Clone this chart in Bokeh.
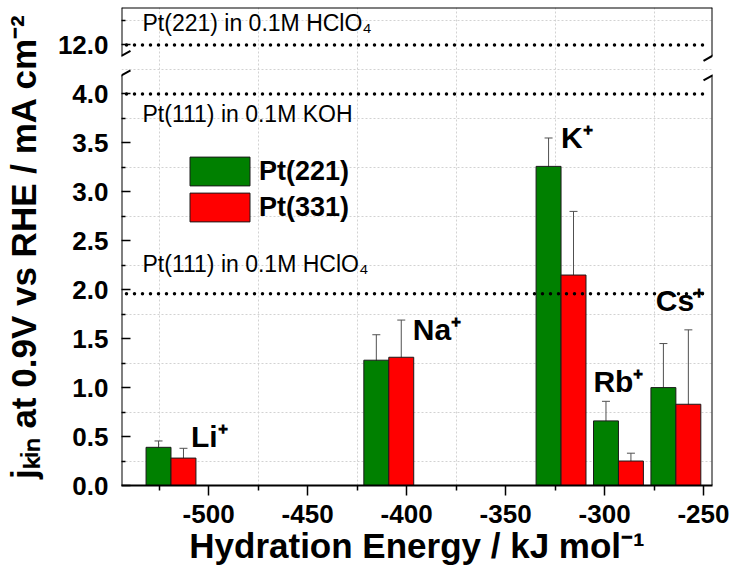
import numpy as np
from bokeh.plotting import figure
from bokeh.models import (ColumnDataSource, FixedTicker, CustomJSTickFormatter,
                          Whisker, TeeHead, Arrow, Legend, LegendItem)
from bokeh.core.properties import value
from bokeh.embed import file_html
from bokeh.resources import INLINE

# ---------------- data ----------------
ions = ["Li\u207a", "Na\u207a", "K\u207a", "Rb\u207a", "Cs\u207a"]
hydration_energy = [-519, -409, -322, -293, -264]          # kJ/mol
jkin_pt221 = [0.39, 1.28, 3.26, 0.66, 1.00]                  # mA/cm2
err_pt221 = [0.065, 0.26, 0.29, 0.20, 0.45]
jkin_pt331 = [0.28, 1.31, 2.15, 0.25, 0.83]
err_pt331 = [0.10, 0.38, 0.65, 0.08, 0.76]
series_names = ["Pt(221)", "Pt(331)"]
ref_labels = ["Pt(221) in 0.1M HClO\u2084", "Pt(111) in 0.1M KOH", "Pt(111) in 0.1M HClO\u2084"]
ref_values = [12.0, 4.0, 1.96]
x_ticks = [-500, -450, -400, -350, -300, -250]
x_minor_ticks = [-525, -475, -425, -375, -325, -275]
y_ticks_lower = [0.0, 0.5, 1.0, 1.5, 2.0, 2.5, 3.0, 3.5, 4.0]
y_minor_lower = [0.25, 0.75, 1.25, 1.75, 2.25, 2.75, 3.25, 3.75]
y_ticks_upper = [12.0]
y_minor_upper = [12.25]
y_grid_lower = [0.25, 0.75, 1.25, 1.75, 2.25, 2.75, 3.25, 3.75, 4.25]
x_title = "Hydration Energy / kJ mol\u207b\u00b9"
y_title = "j\u2096\u1d62\u2099 at 0.9V vs RHE / mA cm\u207b\u00b2"

# ---------------- axis break (upper segment shifted down) ----------------
BREAK_LIMIT = 6.0       # values above this belong to the upper segment
UPPER_BASE = 12.0       # value of the upper segment ...
UPPER_POS = 4.5         # ... drawn at this plot position
X_START, X_END = -544.0, -245.5
Y_END = 4.883
GAP_LO, GAP_HI = 4.19, 4.39


def ty(v):
    return v if v < BREAK_LIMIT else v - UPPER_BASE + UPPER_POS


# ---------------- geometry (page pixels) ----------------
W, H = 729, 577
BL, BR, BT, BB = 120, 17, 7, 92
SX = (W - BL - BR) / (X_END - X_START)
SY = (H - BT - BB) / Y_END
BASE_SHIFT = 0.34        # em: lift so that text sits on its alphabetic baseline

FONT = "Liberation Sans"
BAR_W = 12.6
GREEN = "#008000"
RED = "#ff0000"

p = figure(width=W, height=H, x_range=(X_START, X_END), y_range=(0, Y_END),
           output_backend="svg", toolbar_location=None,
           min_border_left=BL, min_border_right=BR, min_border_top=BT, min_border_bottom=BB)
p.outline_line_color = None
p.background_fill_color = "white"
p.border_fill_color = "white"

# grids (dotted, at intermediate positions)
p.xgrid.ticker = FixedTicker(ticks=x_minor_ticks)
p.ygrid.ticker = FixedTicker(ticks=y_grid_lower + [ty(v) for v in y_minor_upper])
for g in (p.xgrid, p.ygrid):
    g.grid_line_color = "#d2d2d2"
    g.grid_line_dash = "2 2"
    g.grid_line_width = 1

# x axis
xa = p.xaxis[0]
xa.ticker = FixedTicker(ticks=x_ticks, minor_ticks=x_minor_ticks)
xa.formatter = CustomJSTickFormatter(code="return tick.toFixed(0);")
xa.axis_line_width = 2
xa.axis_line_color = "black"
xa.major_tick_in, xa.major_tick_out = 0, 10
xa.minor_tick_in, xa.minor_tick_out = 0, 5
xa.major_tick_line_width = 1.5
xa.minor_tick_line_width = 1.5
xa.major_tick_line_color = "black"
xa.minor_tick_line_color = "black"
xa.major_label_text_font = FONT
xa.major_label_text_font_style = "bold"
xa.major_label_text_font_size = "26px"
xa.major_label_text_color = "black"
xa.major_label_standoff = 9
xa.axis_label = x_title
xa.axis_label_text_font = FONT
xa.axis_label_text_font_style = "bold"
xa.axis_label_text_font_size = "35px"
xa.axis_label_text_color = "black"
xa.axis_label_standoff = 0

# y axis
ya = p.yaxis[0]
ya.ticker = FixedTicker(ticks=y_ticks_lower + [ty(v) for v in y_ticks_upper],
                        minor_ticks=y_minor_lower + [ty(v) for v in y_minor_upper])
ya.formatter = CustomJSTickFormatter(
    args=dict(base=UPPER_BASE, pos=UPPER_POS),
    code="const v = tick > pos - 0.3 ? tick - pos + base : tick; return v.toFixed(1);")
ya.axis_line_color = None
ya.major_tick_in, ya.major_tick_out = 9, 0
ya.minor_tick_in, ya.minor_tick_out = 4, 0
ya.major_tick_line_width = 1.5
ya.minor_tick_line_width = 1.5
ya.major_tick_line_color = "black"
ya.minor_tick_line_color = "black"
ya.major_label_text_font = FONT
ya.major_label_text_font_style = "bold"
ya.major_label_text_font_size = "26px"
ya.major_label_text_color = "black"
ya.major_label_standoff = 13
ya.axis_label = y_title
ya.axis_label_text_font = FONT
ya.axis_label_text_font_style = "bold"
ya.axis_label_text_font_size = "35px"
ya.axis_label_text_color = "black"
ya.axis_label_standoff = 12

# frame lines with break
frame_lines = [
    (X_START, 0, X_START, GAP_LO), (X_START, GAP_HI, X_START, Y_END),
    (X_END, 0, X_END, GAP_LO), (X_END, GAP_HI, X_END, Y_END),
    (X_START, Y_END, X_END, Y_END),
]
for (x0, y0, x1, y1) in frame_lines:
    p.add_layout(Arrow(x_start=x0, y_start=y0, x_end=x1, y_end=y1, end=None,
                       line_color="black", line_width=2))
SL_DX, SL_DY = 9 / SX, 5 / SY
for xc in (X_START, X_END):
    for yc in (GAP_LO, GAP_HI):
        p.add_layout(Arrow(x_start=xc - SL_DX, y_start=yc - SL_DY, x_end=xc + SL_DX,
                           y_end=yc + SL_DY, end=None, line_color="black", line_width=2))

# bars
e = np.array(hydration_energy, dtype=float)
src221 = ColumnDataSource(dict(x=e - BAR_W / 2, top=jkin_pt221,
                               upper=np.array(jkin_pt221) + np.array(err_pt221),
                               lower=np.array(jkin_pt221) - np.array(err_pt221)))
src331 = ColumnDataSource(dict(x=e + BAR_W / 2, top=jkin_pt331,
                               upper=np.array(jkin_pt331) + np.array(err_pt331),
                               lower=np.array(jkin_pt331) - np.array(err_pt331)))
r1 = p.vbar(x="x", top="top", bottom=0, width=BAR_W, source=src221,
            fill_color=GREEN, line_color="#1a1a1a", line_width=1)
r2 = p.vbar(x="x", top="top", bottom=0, width=BAR_W, source=src331,
            fill_color=RED, line_color="#1a1a1a", line_width=1)
for s in (src221, src331):
    p.add_layout(Whisker(source=s, base="x", upper="upper", lower="lower",
                         dimension="height", line_color="#505050", line_width=1,
                         upper_head=TeeHead(size=8, line_color="#505050", line_width=1),
                         lower_head=TeeHead(size=8, line_color="#505050", line_width=1)))

# reference dotted lines
ry = [ty(v) for v in ref_values]
p.segment(x0=[X_START + 5 / SX] * len(ry), x1=[X_END - 7 / SX] * len(ry), y0=ry, y1=ry,
          line_color="black", line_width=3.5, line_dash="0 8", line_cap="round")
ref_size = 23
ref_dy = [d - BASE_SHIFT * ref_size for d in (-14, 28, -22)]
p.text(x=[X_START] * len(ry), y=ry, text=ref_labels, x_offset=21, y_offset=ref_dy,
       text_font=value(FONT), text_font_size=f"{ref_size}px", text_color="black",
       text_align="left", text_baseline="alphabetic")

# ion labels
tops = np.maximum(np.array(jkin_pt221) + np.array(err_pt221),
                  np.array(jkin_pt331) + np.array(err_pt331))
ion_size = 30
ion_dx = [20, 24, 0, -25, -20]
ion_dy = [d - BASE_SHIFT * ion_size for d in (6, 20, 10, -10, -19)]
p.text(x=hydration_energy, y=tops, text=ions, x_offset=ion_dx, y_offset=ion_dy,
       text_font=value(FONT), text_font_size=f"{ion_size}px", text_font_style="bold",
       text_color="black", text_align="left", text_baseline="alphabetic")

legend = Legend(items=[LegendItem(label=series_names[0], renderers=[r1]),
                       LegendItem(label=series_names[1], renderers=[r2])],
                location=(61, 260), glyph_width=75, glyph_height=36, spacing=0,
                padding=0, margin=0, label_standoff=2, border_line_color=None,
                background_fill_alpha=0, label_text_font=FONT, label_text_color="black",
                label_text_font_style="bold", label_text_font_size="27px",
                label_height=36)
p.add_layout(legend)

open("out.html", "w").write(file_html(p, INLINE))
